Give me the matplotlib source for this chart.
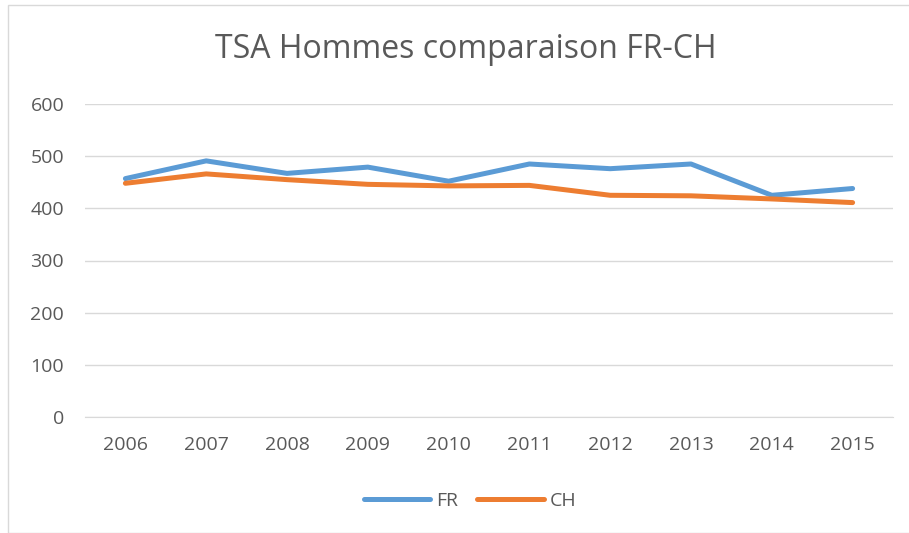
import matplotlib
matplotlib.use("Agg")
import matplotlib.pyplot as plt
from matplotlib.patches import Rectangle
from matplotlib.lines import Line2D

years = ["2006", "2007", "2008", "2009", "2010", "2011", "2012", "2013", "2014", "2015"]
fr = [457, 491, 467, 479, 452, 485, 476, 485, 425, 438]
ch = [448, 466, 455, 446, 443, 444, 425, 424, 418, 411]
yticks = [0, 100, 200, 300, 400, 500, 600]

plt.rcParams['font.family'] = ['Open Sans', 'DejaVu Sans']
fig = plt.figure(figsize=(9.09, 5.33), dpi=100)
fig.patches.append(Rectangle((8/909, 0), 1.2, 1 - 5/533, transform=fig.transFigure,
                             fill=False, edgecolor='#d9d9d9', linewidth=1))
ax = fig.add_axes([85/909, 1 - 417/533, 808/909, 313/533])
x = list(range(len(years)))
ax.plot(x, fr, color='#5B9BD5', linewidth=3.6, solid_capstyle='round', solid_joinstyle='round', label='FR', zorder=3)
ax.plot(x, ch, color='#ED7D31', linewidth=3.6, solid_capstyle='round', solid_joinstyle='round', label='CH', zorder=3)
ax.set_xlim(-0.5, 9.5)
ax.set_ylim(0, 600)
ax.set_yticks(yticks)
ax.set_xticks(x)
ax.set_xticklabels(years)
ax.grid(axis='y', color='#d9d9d9', linewidth=1)
ax.set_axisbelow(True)
for s in ['top', 'right', 'left']:
    ax.spines[s].set_visible(False)
ax.spines['bottom'].set_color('#d9d9d9')
ax.tick_params(axis='both', length=0, labelsize=14, colors='#595959')
ax.tick_params(axis='y', pad=15)
ax.tick_params(axis='x', pad=14)
fig.text(466/909, 1 - 50/533, "TSA Hommes comparaison FR-CH", ha='center', va='center',
         fontsize=23, color='#595959')
leg = fig.legend(handles=[Line2D([], [], color='#5B9BD5', lw=3.6, solid_capstyle='round'),
                          Line2D([], [], color='#ED7D31', lw=3.6, solid_capstyle='round')],
                 labels=['FR', 'CH'], loc='center', bbox_to_anchor=(470/909, 1 - 501/533),
                 ncol=2, frameon=False, fontsize=14, handlelength=3.4, handletextpad=0.3,
                 columnspacing=1.0)
for t in leg.get_texts():
    t.set_color('#595959')
fig.savefig("out.png", dpi=100)
